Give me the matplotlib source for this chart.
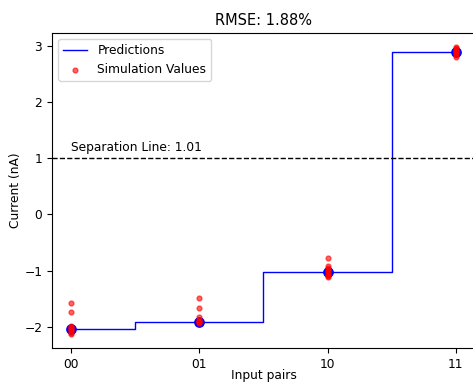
import matplotlib

matplotlib.use("Agg")

import matplotlib.pyplot as plt
import numpy as np

labels = ["00", "01", "10", "11"]
predictions = [-2.04, -1.92, -1.03, 2.88]
sim_values = [
    [-2.12, -2.10, -2.08, -2.06, -2.04, -2.02, -2.00, -1.98, -1.73, -1.57],
    [-1.93, -1.92, -1.91, -1.90, -1.88, -1.83, -1.66, -1.49],
    [-1.12, -1.10, -1.07, -1.04, -1.01, -0.98, -0.95, -0.92, -0.78],
    [2.80, 2.83, 2.86, 2.88, 2.90, 2.92, 2.95, 2.97],
]
separation = 1.01
rmse = 1.88

plt.rcParams["font.size"] = 8.8

x = np.arange(len(labels))

fig = plt.figure(figsize=(4.73, 3.83), dpi=100)
ax = fig.add_axes([0.110, 0.0914, 0.894, 0.8226])

ax.step(x, predictions, where="mid", color="blue", linewidth=1, label="Predictions")
ax.scatter(x, predictions, color="blue", s=45, zorder=3)

sx = np.concatenate([[i] * len(v) for i, v in enumerate(sim_values)])
sy = np.concatenate(sim_values)
ax.scatter(sx, sy, color="red", alpha=0.6, s=12, zorder=4, label="Simulation Values")

ax.axhline(separation, color="black", linestyle="--", linewidth=1)
ax.text(0, separation + 0.06, f"Separation Line: {separation:.2f}", ha="left", va="bottom")

ax.set_xticks(x)
ax.set_xticklabels(labels)
ax.set_xlabel("Input pairs", labelpad=-1)
ax.set_ylabel("Current (nA)", labelpad=2)
ax.set_title(f"RMSE: {rmse:.2f}%")
ax.legend(loc="upper left")

fig.savefig("out.png", dpi=100)
